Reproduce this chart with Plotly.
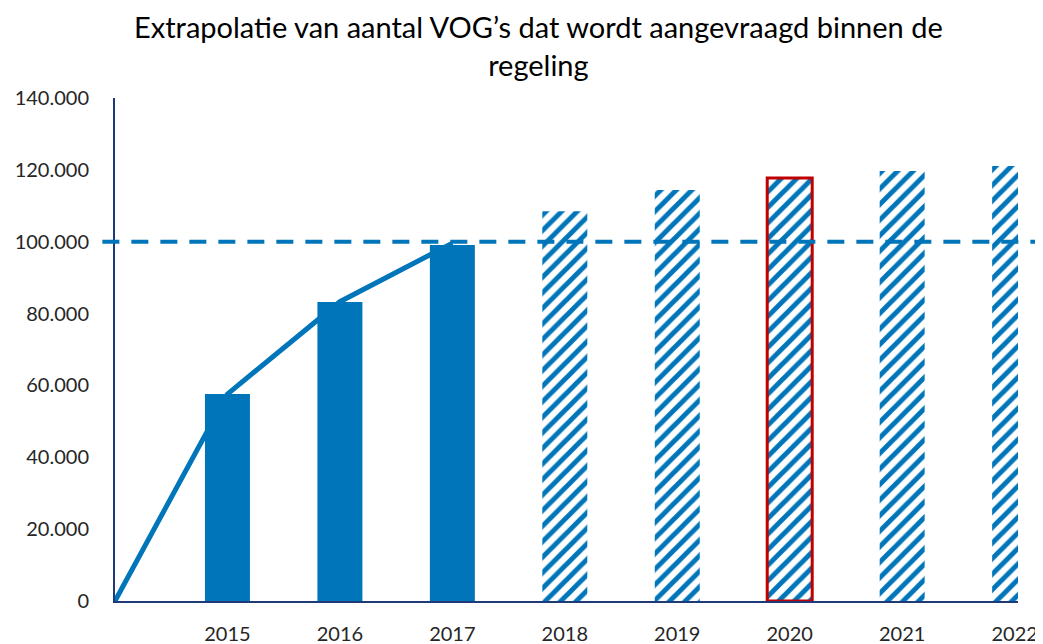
import plotly.graph_objects as go

years = [2015, 2016, 2017, 2018, 2019, 2020, 2021, 2022]
bar_values = [57600, 83200, 99100, 108500, 114400, 117700, 119700, 121100]
line_years = [2014, 2015, 2016, 2017]
line_values = [0, 57600, 83300, 99600]
threshold = 100000
y_ticks = [0, 20000, 40000, 60000, 80000, 100000, 120000, 140000]
y_tick_labels = ["0", "20.000", "40.000", "60.000", "80.000", "100.000", "120.000", "140.000"]
title_text = "Extrapolatie van aantal VOG’s dat wordt aangevraagd binnen de<br>regeling"

blue = "#0075B9"
navy = "#1F3A78"
red = "#C00000"
highlight_year = 2020
projected_from = 2018

shapes_list = ["" if y < projected_from else "/" for y in years]
line_colors = [red if y == highlight_year else blue for y in years]
line_widths = [3 if y == highlight_year else 0 for y in years]

fig = go.Figure()
fig.add_trace(go.Bar(
    x=years, y=bar_values, width=0.4,
    marker=dict(
        color=blue,
        line=dict(color=line_colors, width=line_widths),
        pattern=dict(shape=shapes_list, fillmode="replace", fgcolor=blue,
                     bgcolor="white", size=11, solidity=0.45),
    ),
    showlegend=False, hoverinfo="skip",
))
fig.add_trace(go.Scatter(
    x=line_years, y=line_values, mode="lines",
    line=dict(color=blue, width=5), showlegend=False, hoverinfo="skip",
))

y_max = 140000
fig.add_shape(type="line", xref="paper", yref="paper",
              x0=-0.014, x1=1.025, y0=threshold / y_max, y1=threshold / y_max,
              line=dict(color=blue, width=4, dash="17px,12px"), layer="above")

font_family = "Lato, Open Sans, sans-serif"
fig.add_annotation(text=title_text, xref="paper", yref="paper", x=0.4695, y=1.104,
                   xanchor="center", yanchor="middle", showarrow=False, align="center",
                   font=dict(family=font_family, size=29, color="black"))
fig.update_layout(
    width=1035, height=636,
    margin=dict(l=107, r=25, t=90, b=43),
    paper_bgcolor="white", plot_bgcolor="white",
    font=dict(family=font_family, color="#262626", size=20),
    xaxis=dict(range=[2014, 2022.03], tickvals=years, ticktext=[str(y) for y in years],
               showgrid=False, zeroline=False, showline=True, linecolor=navy, linewidth=2,
               ticks="", ticklabelstandoff=14, automargin=False, ticklabeloverflow="allow"),
    yaxis=dict(range=[0, y_max], tickvals=y_ticks, ticktext=y_tick_labels,
               showgrid=False, zeroline=False, showline=True, linecolor=navy, linewidth=2,
               ticks="", ticklabelstandoff=20, automargin=False),
)
fig.write_html("out.html")
